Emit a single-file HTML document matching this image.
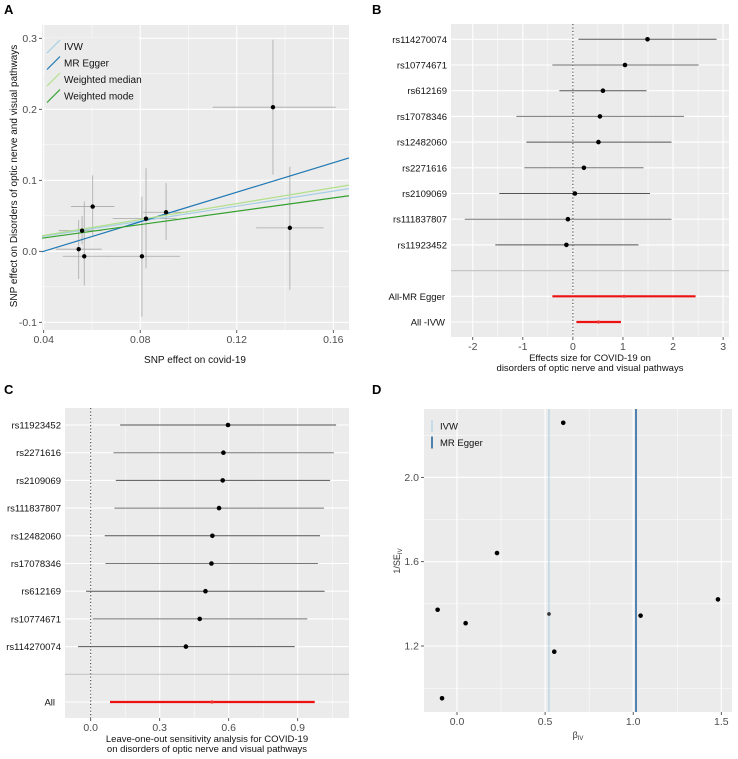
<!DOCTYPE html>
<html><head><meta charset="utf-8">
<style>
body{margin:0;background:#fff;}
svg{display:block;font-family:"Liberation Sans",Arial,sans-serif;}
</style></head>
<body>
<svg id="fig" width="738" height="759" viewBox="0 0 738 759" xmlns="http://www.w3.org/2000/svg">
<text x="4" y="14" font-size="13" font-weight="bold">A</text>
<text x="372" y="14" font-size="13" font-weight="bold">B</text>
<text x="4" y="394" font-size="13" font-weight="bold">C</text>
<text x="372" y="394" font-size="13" font-weight="bold">D</text>
</svg>
<script>
// ---- Panel A data ----
const aX = [0.135, 0.142, 0.0603, 0.0907, 0.0824, 0.0807, 0.0545, 0.0568, 0.0559];
const aY = [0.203, 0.033, 0.063, 0.055, 0.046, -0.007, 0.003, -0.007, 0.029];
const aXlo = [0.110, 0.128, 0.0513, 0.0813, 0.0686, 0.0658, 0.0451, 0.0479, 0.0462];
const aXhi = [0.161, 0.156, 0.0693, 0.0997, 0.0951, 0.0965, 0.0640, 0.0668, 0.0640];
const aYlo = [0.108, -0.054, 0.022, 0.016, -0.024, -0.092, -0.039, -0.048, 0.010];
const aYhi = [0.298, 0.119, 0.107, 0.096, 0.117, 0.077, 0.044, 0.070, 0.050];
const aMethods = ["IVW", "MR Egger", "Weighted median", "Weighted mode"];
const aSlopes = [0.53, 1.04, 0.56, 0.47];
const aIntercepts = [0, -0.0416, 0, 0];
const aXTicks = [0.04, 0.08, 0.12, 0.16];
const aYTicks = [-0.1, 0.0, 0.1, 0.2, 0.3];
// ---- Panel B data ----
const bLabels = ["rs114270074","rs10774671","rs612169","rs17078346","rs12482060","rs2271616","rs2109069","rs111837807","rs11923452"];
const bEst = [1.49, 1.04, 0.60, 0.54, 0.51, 0.22, 0.04, -0.10, -0.13];
const bLo = [0.11, -0.41, -0.27, -1.13, -0.93, -0.97, -1.47, -2.16, -1.55];
const bHi = [2.87, 2.51, 1.47, 2.22, 1.97, 1.41, 1.54, 1.97, 1.31];
const bSumLabels = ["All-MR Egger", "All -IVW"];
const bSumEst = [1.02, 0.51];
const bSumLo = [-0.41, 0.07];
const bSumHi = [2.45, 0.96];
const bTicks = [-2, -1, 0, 1, 2, 3];
// ---- Panel C data ----
const cLabels = ["rs11923452","rs2271616","rs2109069","rs111837807","rs12482060","rs17078346","rs612169","rs10774671","rs114270074"];
const cEst = [0.597, 0.577, 0.574, 0.558, 0.529, 0.525, 0.499, 0.474, 0.414];
const cLo = [0.128, 0.099, 0.109, 0.103, 0.061, 0.064, -0.020, 0.009, -0.055];
const cHi = [1.067, 1.057, 1.041, 1.014, 0.997, 0.988, 1.017, 0.942, 0.887];
const cAllEst = [0.528];
const cAllLo = [0.084];
const cAllHi = [0.974];
const cTicks = [0.0, 0.3, 0.6, 0.9];
// ---- Panel D data ----
const dBeta = [0.603, 0.227, -0.110, 0.049, 0.552, 1.042, 1.481, -0.085];
const dInvSE = [2.259, 1.641, 1.372, 1.308, 1.173, 1.344, 1.421, 0.952];
const dMethods = ["IVW", "MR Egger"];
const dMethodBeta = [0.522, 1.016];
const dXTicks = [0.0, 0.5, 1.0, 1.5];
const dYTicks = [1.2, 1.6, 2.0];

const svg = document.getElementById('fig');
const NS = "http://www.w3.org/2000/svg";
function el(tag, attrs, parent){const e=document.createElementNS(NS,tag);for(const k in attrs)e.setAttribute(k,attrs[k]);(parent||svg).appendChild(e);return e;}
function txt(x,y,s,size,anchor,fill,parent){const t=el('text',{x:x,y:y,'font-size':size,'text-anchor':anchor||'start',fill:fill||'#4d4d4d'},parent);t.textContent=s;return t;}
function lin(x1,y1,x2,y2,stroke,w,parent,dash){const a={x1:x1,y1:y1,x2:x2,y2:y2,stroke:stroke,'stroke-width':w};if(dash)a['stroke-dasharray']=dash;return el('line',a,parent);}
const GRAY="#ebebeb";

// ================= Panel A =================
(function(){
  const g=el('g',{});
  
  
  const L=42,R=349,T=25,B=330;
  const sx=v=>43.7+(v-0.04)*2413.3, sy=v=>251.3-v*710;
  el('rect',{x:L,y:T,width:R-L,height:B-T,fill:GRAY},g);
  // minor grid
  for(let i=0;i<aXTicks.length;i++){const m=aXTicks[i]+0.02;if(sx(m)<R)lin(sx(m),T,sx(m),B,'#fff',0.5,g);}
  for(let i=0;i<aYTicks.length-1;i++){const m=aYTicks[i]+0.05;lin(L,sy(m),R,sy(m),'#fff',0.5,g);}
  aXTicks.forEach(v=>{lin(sx(v),T,sx(v),B,'#fff',1.1,g);lin(sx(v),B,sx(v),B+3,'#333',0.8,g);const t=txt(sx(v),B+13,v.toFixed(2),10.5,'middle','#4d4d4d',g);});
  aYTicks.forEach(v=>{lin(L,sy(v),R,sy(v),'#fff',1.1,g);lin(L-3,sy(v),L,sy(v),'#333',0.8,g);const t=txt(L-5,sy(v)+3.5,v.toFixed(1),10.5,'end','#4d4d4d',g);});
  // error bars
  for(let i=0;i<aX.length;i++){
    const h=lin(sx(aXlo[i]),sy(aY[i]),sx(aXhi[i]),sy(aY[i]),'#a8a8a8',0.8,g);
    
    const v=lin(sx(aX[i]),sy(aYlo[i]),sx(aX[i]),sy(aYhi[i]),'#a8a8a8',0.8,g);
    
  }
  // regression lines
  const cols=["#a6cee3","#1f78b4","#b2df8a","#33a02c"];
  const x0=(L-43.7)/2413.3+0.04, x1=(R-43.7)/2413.3+0.04;
  for(let i=0;i<aMethods.length;i++){
    const l=lin(sx(x0),sy(aSlopes[i]*x0+aIntercepts[i]),sx(x1),sy(aSlopes[i]*x1+aIntercepts[i]),cols[i],1.2,g);
    
  }
  for(let i=0;i<aX.length;i++){
    const c=el('circle',{cx:sx(aX[i]),cy:sy(aY[i]),r:2.2,fill:'#000'},g);
    
  }
  // legend
  const lg=el('g',{},g);
  
  el('rect',{x:45,y:38,width:93,height:68,fill:GRAY},lg);
  for(let i=0;i<aMethods.length;i++){
    const yy=47+i*16.5;
    lin(47,yy+6,60,yy-7,cols[i],1.2,lg);
    const t=txt(64,yy+3,aMethods[i],10,'start','#111',lg);
    
  }
  const xt=txt(195,363,"SNP effect on  covid-19",10,'middle','#111',g);
  
  const yt=txt(0,0,"SNP effect on Disorders of optic nerve and visual pathways",10,'middle','#111',g);
  yt.setAttribute('transform','translate(17,176) rotate(-90)');
  
})();

// ================= Forest helper =================
function forest(cfg){
  const g=el('g',{});
  
  
  const {L,R,T,B,sx,rowY,ticks,minor}=cfg;
  el('rect',{x:L,y:T,width:R-L,height:B-T,fill:GRAY},g);
  minor.forEach(v=>lin(sx(v),T,sx(v),B,'#fff',0.5,g));
  ticks.forEach(v=>{lin(sx(v),T,sx(v),B,'#fff',1.1,g);lin(sx(v),B,sx(v),B+3,'#333',0.8,g);
    const t=txt(sx(v),B+13,cfg.fmt(v),10.5,'middle','#4d4d4d',g);});
  const n=cfg.labels.length;
  const allRows=n+1+cfg.sumLabels.length;
  for(let r=0;r<allRows;r++){ if(r!==n) lin(L,rowY(r),R,rowY(r),'#fff',1.1,g); }
  lin(L,rowY(n),R,rowY(n),'#c6c6c6',1.2,g);
  lin(sx(0),T,sx(0),B,'#333',1,g,'1.2,2.2');
  for(let i=0;i<n;i++){
    const y=rowY(i);
    const t=txt(L-4,y+3.5,cfg.labels[i],9.5,'end','#111',g);
    const l=lin(sx(cfg.lo[i]),y,sx(cfg.hi[i]),y,i%2?'#777':'#555',1,g);
    const c=el('circle',{cx:sx(cfg.est[i]),cy:y,r:2.3,fill:'#000'},g);
  }
  for(let j=0;j<cfg.sumLabels.length;j++){
    const y=rowY(n+1+j);
    const t=txt(L-cfg.sumPad,y+3.5,cfg.sumLabels[j],9.5,'end','#111',g);
    const l=lin(sx(cfg.sumLo[j]),y,sx(cfg.sumHi[j]),y,'#ee1111',2.2,g);
    const c=el('circle',{cx:sx(cfg.sumEst[j]),cy:y,r:1.6,fill:'#e33'},g);
  }
  cfg.title.forEach((s,k)=>{const t=txt((L+R)/2,B+24+k*10,s,9.5,'middle','#111',g);});
}
forest({name:'panel-b-forest',L:451,R:729,T:24,B:337,sx:v=>572.9+v*50.07,rowY:r=>39.3+r*25.7,
  ticks:bTicks,minor:[-1.5,-0.5,0.5,1.5,2.5],fmt:v=>String(v),labels:bLabels,est:bEst,lo:bLo,hi:bHi,
  sumLabels:bSumLabels,sumEst:bSumEst,sumLo:bSumLo,sumHi:bSumHi,sumPad:6,
  title:["Effects size for COVID-19 on","disorders of optic nerve and visual pathways"]});
forest({name:'panel-c-leave-one-out',L:65,R:349,T:408,B:718,sx:v=>90.7+v*230,rowY:r=>425+r*27.7,
  ticks:cTicks,minor:[0.15,0.45,0.75,1.05],fmt:v=>v.toFixed(1),labels:cLabels,est:cEst,lo:cLo,hi:cHi,
  sumLabels:["All"],sumEst:cAllEst,sumLo:cAllLo,sumHi:cAllHi,sumPad:10,
  title:["Leave-one-out sensitivity analysis for COVID-19","on disorders of optic nerve and visual pathways"]});

// ================= Panel D =================
(function(){
  const g=el('g',{});
  
  
  const L=424,R=732,T=409,B=712;
  const sx=v=>457+v*176.2, sy=v=>646-(v-1.2)*210.8;
  el('rect',{x:L,y:T,width:R-L,height:B-T,fill:GRAY},g);
  [-0.25,0.25,0.75,1.25].forEach(v=>lin(sx(v),T,sx(v),B,'#fff',0.5,g));
  [1.0,1.4,1.8,2.2].forEach(v=>lin(L,sy(v),R,sy(v),'#fff',0.5,g));
  dXTicks.forEach(v=>{lin(sx(v),T,sx(v),B,'#fff',1.1,g);lin(sx(v),B,sx(v),B+3,'#333',0.8,g);
    const t=txt(sx(v),B+13,v.toFixed(1),10.5,'middle','#4d4d4d',g);});
  dYTicks.forEach(v=>{lin(L,sy(v),R,sy(v),'#fff',1.1,g);lin(L-3,sy(v),L,sy(v),'#333',0.8,g);
    const t=txt(L-5,sy(v)+3.5,v.toFixed(1),10.5,'end','#4d4d4d',g);});
  const cols=["#a6cee3","#4f81b0"], ws=[1,2];
  for(let i=0;i<dMethods.length;i++){
    const l=lin(sx(dMethodBeta[i]),T,sx(dMethodBeta[i]),B,cols[i],ws[i],g);
    
  }
  for(let i=0;i<dBeta.length;i++){
    const c=el('circle',{cx:sx(dBeta[i]),cy:sy(dInvSE[i]),r:2.3,fill:'#000'},g);
    
  }
  const p=el('circle',{cx:sx(0.522),cy:sy(1.352),r:1.8,fill:'#333'},g);
  
  const lg=el('g',{},g);
  
  for(let i=0;i<dMethods.length;i++){
    const yy=426+i*16.5;
    lin(432,yy-6,432,yy+6,cols[i],ws[i],lg);
    const t=txt(440,yy+3.5,dMethods[i],9.5,'start','#111',lg);
    
  }
  const xt=el('text',{x:578,y:738,'font-size':9,'text-anchor':'middle',fill:'#333'},g);
  xt.innerHTML='β<tspan font-size="6" dy="2">IV</tspan>';
  
  const yt=el('text',{'font-size':9,'text-anchor':'middle',fill:'#333',transform:'translate(400,561) rotate(-90)'},g);
  yt.innerHTML='1/SE<tspan font-size="6" dy="2">IV</tspan>';
  
})();
</script>
</body></html>
